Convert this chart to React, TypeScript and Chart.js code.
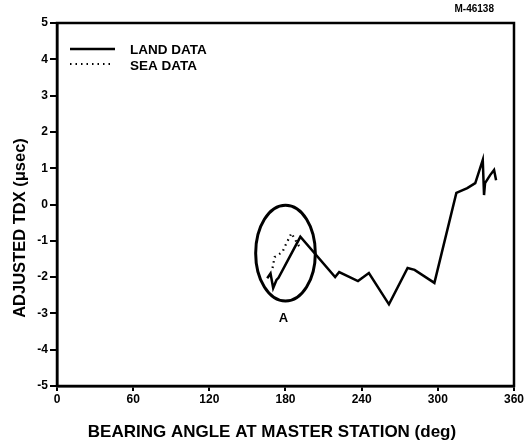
import React, { useEffect, useRef } from "react";
import { Chart, registerables } from "chart.js";

Chart.register(...registerables);

const FONT = "'Liberation Sans', Arial, Helvetica, sans-serif";

// Bearing angle (deg) and adjusted TDX (µsec)
const landX = [165.6, 168.2, 170.3, 172.9, 174.5, 191.7, 219.1, 222.3, 237.1, 245.7, 261.5, 276.2, 281.7, 297.3, 314.6, 323.2, 329.5, 335.4, 336.4, 337.2, 341.2, 344.3, 345.9];
const landY = [-2.03, -1.9, -2.3, -2.08, -2.02, -0.89, -2.0, -1.86, -2.11, -1.89, -2.75, -1.75, -1.8, -2.16, 0.32, 0.45, 0.59, 1.23, 0.26, 0.59, 0.81, 0.95, 0.67];

const seaX = [169.8, 171.4, 177.6, 180.0, 184.7, 190.1, 193.3];
const seaY = [-1.75, -1.45, -1.31, -1.12, -0.79, -1.12, -1.2];

const xTicks = [0, 60, 120, 180, 240, 300, 360];
const yTicks = [-5, -4, -3, -2, -1, 0, 1, 2, 3, 4, 5];

const legendLabels = ["LAND DATA", "SEA DATA"];
const xTitle = "BEARING ANGLE AT MASTER STATION (deg)";
const yTitle = "ADJUSTED TDX (\u03bcsec)";
const figId = "M-46138";

// Circled region "A"
const circleCenter = { x: 180, y: -1.34 };
const circleRadius = { x: 23.5, y: 1.32 };
const circleLabel = { text: "A", x: 178.4, y: -3.13 };

const decor = {
  id: "decor",
  afterDraw(chart: any) {
    const ctx = chart.ctx as CanvasRenderingContext2D;
    const a = chart.chartArea;
    const xs = chart.scales.x;
    const ys = chart.scales.y;
    ctx.save();
    ctx.strokeStyle = "#000";
    ctx.fillStyle = "#000";
    // frame
    ctx.lineWidth = 2.5;
    ctx.strokeRect(a.left, a.top, a.right - a.left, a.bottom - a.top);

    // ellipse
    const cx = xs.getPixelForValue(circleCenter.x);
    const cy = ys.getPixelForValue(circleCenter.y);
    const rx = Math.abs(xs.getPixelForValue(circleCenter.x + circleRadius.x) - cx);
    const ry = Math.abs(ys.getPixelForValue(circleCenter.y + circleRadius.y) - cy);
    ctx.lineWidth = 3;
    ctx.beginPath();
    ctx.ellipse(cx, cy, rx, ry, 0, 0, Math.PI * 2);
    ctx.stroke();

    ctx.font = `bold 13px ${FONT}`;
    ctx.textAlign = "center";
    ctx.textBaseline = "middle";
    ctx.fillText(circleLabel.text, xs.getPixelForValue(circleLabel.x), ys.getPixelForValue(circleLabel.y));

    // legend
    const lx0 = a.left + 13;
    const lx1 = a.left + 58;
    const ly0 = a.top + 26;
    const ly1 = a.top + 41;
    ctx.lineWidth = 2.5;
    ctx.setLineDash([]);
    ctx.beginPath();
    ctx.moveTo(lx0, ly0);
    ctx.lineTo(lx1, ly0);
    ctx.stroke();
    ctx.lineWidth = 2;
    ctx.setLineDash([1.5, 4]);
    ctx.beginPath();
    ctx.moveTo(lx0, ly1);
    ctx.lineTo(lx1 - 3, ly1);
    ctx.stroke();
    ctx.setLineDash([]);
    ctx.font = `bold 13.5px ${FONT}`;
    ctx.textAlign = "left";
    ctx.fillText(legendLabels[0], a.left + 73, ly0 + 1);
    ctx.fillText(legendLabels[1], a.left + 73, ly1 + 2);

    // figure id
    ctx.font = `bold 10px ${FONT}`;
    ctx.textAlign = "right";
    ctx.fillText(figId, a.right - 20, 9);

    // axis titles
    ctx.font = `bold 17px ${FONT}`;
    ctx.textAlign = "center";
    ctx.fillText(xTitle, 272, 432);
    ctx.save();
    ctx.translate(20, 228);
    ctx.rotate(-Math.PI / 2);
    ctx.font = `bold 16.5px ${FONT}`;
    ctx.fillText(yTitle, 0, 0);
    ctx.restore();
    ctx.restore();
  },
};

export default function App() {
  const ref = useRef<HTMLCanvasElement>(null);
  useEffect(() => {
    document.body.style.margin = "0";
    const tickFont = { family: FONT, size: 12, weight: "bold" as const };
    const chart = new Chart(ref.current!, {
      type: "line",
      data: {
        datasets: [
          {
            label: legendLabels[0],
            data: landX.map((x, i) => ({ x, y: landY[i] })),
            borderColor: "#000",
            borderWidth: 2.5,
            pointRadius: 0,
            tension: 0,
          },
          {
            label: legendLabels[1],
            data: seaX.map((x, i) => ({ x, y: seaY[i] })),
            borderColor: "#000",
            borderWidth: 2.2,
            borderDash: [1.5, 4],
            pointRadius: 0,
            tension: 0,
          },
        ],
      },
      options: {
        responsive: false,
        animation: false,
        devicePixelRatio: 1,
        layout: { padding: { left: 0, top: 23, right: 8, bottom: 0 } },
        plugins: { legend: { display: false }, tooltip: { enabled: false } },
        scales: {
          x: {
            type: "linear",
            min: 0,
            max: 360,
            afterBuildTicks: (s: any) => {
              s.ticks = xTicks.map((v) => ({ value: v }));
            },
            ticks: { font: tickFont, color: "#000", padding: 1, maxRotation: 0 },
            grid: { drawOnChartArea: false, tickLength: 5, color: "#000", lineWidth: 2 },
            border: { color: "#000", width: 2.5 },
            afterFit: (s: any) => {
              s.height = 61;
            },
          },
          y: {
            type: "linear",
            min: -5,
            max: 5,
            afterBuildTicks: (s: any) => {
              s.ticks = yTicks.map((v) => ({ value: v }));
            },
            ticks: { font: tickFont, color: "#000", padding: 2 },
            grid: { drawOnChartArea: false, tickLength: 7, color: "#000", lineWidth: 2 },
            border: { color: "#000", width: 2.5 },
            afterFit: (s: any) => {
              s.width = 57;
            },
          },
        },
      },
      plugins: [decor],
    });
    return () => chart.destroy();
  }, []);
  return <canvas ref={ref} width={525} height={447} style={{ display: "block" }} />;
}
